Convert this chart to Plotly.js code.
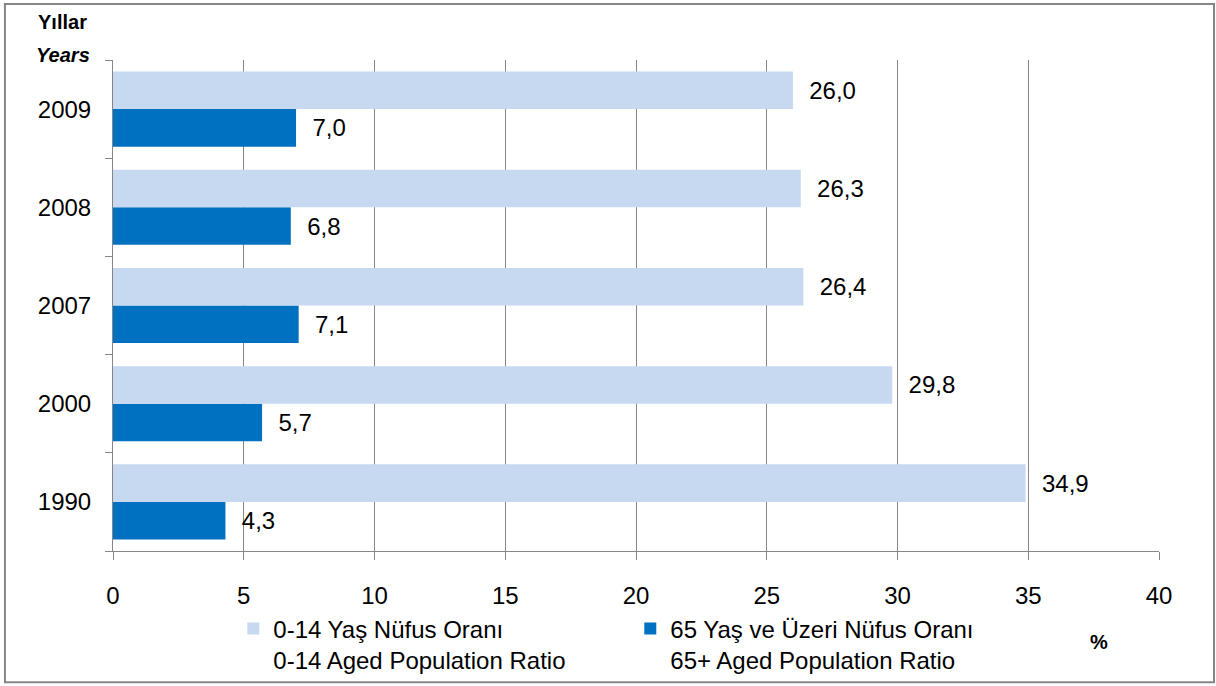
<!DOCTYPE html>
<html>
<head>
<meta charset="utf-8">
<script src="https://cdn.plot.ly/plotly-3.0.1.min.js"></script>
<style>
  body { margin: 0; background: #fff; }
  #chart { width: 1216px; height: 686px; }
</style>
</head>
<body>
<div id="chart"></div>
<script>
// yillar / years, bottom to top
var years = ['1990', '2000', '2007', '2008', '2009'];
var young = [34.9, 29.8, 26.4, 26.3, 26.0];   // 0-14
var old = [4.3, 5.7, 7.1, 6.8, 7.0];          // 65+

var youngName = '0-14 Yaş Nüfus Oranı<br>0-14 Aged Population Ratio';
var oldName = '65 Yaş ve Üzeri Nüfus Oranı<br>65+ Aged Population Ratio';

function lbl(v) {
    return '\u00a0\u00a0' + v.toFixed(1).replace('.', ',');
}

var fnt = 'Liberation Sans, Arial, sans-serif';
var gray = '#868686';

// dark trace first so it sits below the light one in each group
var oldTrace = {
    type: 'bar',
    orientation: 'h',
    y: years,
    x: old,
    name: oldName,
    legendrank: 2,
    marker: {color: '#0070c0'},
    text: old.map(lbl),
    textposition: 'outside',
    textfont: {size: 24, color: '#000'},
    cliponaxis: false
};

var youngTrace = {
    type: 'bar',
    orientation: 'h',
    y: years,
    x: young,
    name: youngName,
    legendrank: 1,
    marker: {color: '#c6d9f1'},
    text: young.map(lbl),
    textposition: 'outside',
    textfont: {size: 24, color: '#000'},
    cliponaxis: false
};

var layout = {
    width: 1216,
    height: 686,
    margin: {l: 113, r: 57, t: 60, b: 135, autoexpand: false},
    font: {family: fnt, size: 24, color: '#000'},
    paper_bgcolor: '#fff',
    plot_bgcolor: '#fff',
    barmode: 'group',
    bargap: 0.235,
    bargroupgap: 0,
    xaxis: {
        range: [0, 40],
        dtick: 5,
        ticks: 'outside',
        ticklen: 8,
        tickcolor: gray,
        showline: true,
        linecolor: gray,
        showgrid: true,
        gridcolor: gray,
        zeroline: false,
        ticklabelstandoff: 15,
        automargin: false,
        fixedrange: true
    },
    yaxis: {
        type: 'category',
        categoryorder: 'array',
        categoryarray: years,
        ticks: 'outside',
        tickson: 'boundaries',
        ticklen: 7,
        tickcolor: gray,
        showline: true,
        linecolor: gray,
        showgrid: false,
        ticklabelstandoff: 16,
        automargin: false,
        fixedrange: true
    },
    showlegend: true,
    legend: {
        orientation: 'h',
        x: 0.115,
        xanchor: 'left',
        y: -0.113,
        yanchor: 'top',
        valign: 'top',
        entrywidth: 352,
        entrywidthmode: 'pixels',
        font: {size: 24},
        bgcolor: 'rgba(0,0,0,0)'
    },
    annotations: [
        {text: '<b>Yıllar</b>', xref: 'paper', yref: 'paper', x: -0.048, y: 1.077,
         xanchor: 'center', yanchor: 'middle', showarrow: false, font: {size: 20}},
        {text: '<b><i>Years</i></b>', xref: 'paper', yref: 'paper', x: -0.048, y: 1.010,
         xanchor: 'center', yanchor: 'middle', showarrow: false, font: {size: 20}},
        {text: '<b>%</b>', xref: 'paper', yref: 'paper', x: 0.9426, y: -0.186,
         xanchor: 'center', yanchor: 'middle', showarrow: false, font: {size: 20}}
    ],
    shapes: [
        {type: 'rect', xref: 'paper', yref: 'paper',
         x0: -0.1033, x1: 1.0526, y0: -0.2675, y1: 1.1139,
         line: {color: gray, width: 2}, layer: 'below'}
    ]
};

Plotly.newPlot('chart', [oldTrace, youngTrace], layout, {displayModeBar: false, staticPlot: true});
</script>
</body>
</html>
